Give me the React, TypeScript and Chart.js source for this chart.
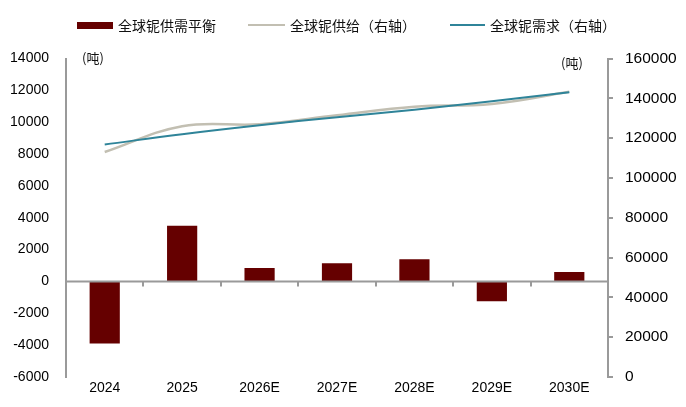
import { useEffect, useRef } from "react";
import { Chart, registerables } from "chart.js";

Chart.register(...registerables);

const categories = ["2024", "2025", "2026E", "2027E", "2028E", "2029E", "2030E"];
// 全球铌供需平衡 (left axis, 吨)
const balance = [-3900, 3500, 850, 1150, 1400, -1250, 600];
// 全球铌供给 / 需求 (right axis, 吨)
const supply = [113000, 126000, 127000, 131500, 135800, 137200, 143300];
const demand = [116800, 122000, 126500, 130500, 134300, 138500, 143000];

const BAR = "#650000";
const SUPPLY = "#c2bfb2";
const DEMAND = "#2f8499";
const AXIS = "#9a9a9a";

// zero line with small tick marks between the categories
const zeroLine = {
  id: "zeroLine",
  afterDatasetsDraw(chart: any) {
    const { ctx, chartArea, scales } = chart;
    const y0 = scales.y.getPixelForValue(0);
    ctx.save();
    ctx.strokeStyle = AXIS;
    ctx.lineWidth = 2;
    ctx.beginPath();
    ctx.moveTo(chartArea.left, y0);
    ctx.lineTo(chartArea.right, y0);
    for (let i = 1; i < categories.length; i++) {
      const x = Math.round(scales.x.getPixelForValue(i - 0.5));
      ctx.moveTo(x, y0);
      ctx.lineTo(x, y0 + 5);
    }
    ctx.stroke();
    ctx.restore();
  },
};

const legendItems = [
  { label: "全球铌供需平衡", left: 77, color: BAR, h: 7, w: 36 },
  { label: "全球铌供给（右轴）", left: 248, color: SUPPLY, h: 2, w: 37 },
  { label: "全球铌需求（右轴）", left: 450, color: DEMAND, h: 2, w: 35 },
];

const plain = (v: any) => String(v);

const App = () => {
  const chartRef = useRef<HTMLCanvasElement>(null);

  useEffect(() => {
    const ctx = chartRef.current!.getContext("2d")!;
    Chart.defaults.font.family = "'Liberation Sans', Arial, sans-serif";
    const myChart = new Chart(ctx, {
      type: "bar",
      data: {
        labels: categories,
        datasets: [
          {
            type: "line",
            label: "全球铌需求（右轴）",
            data: demand,
            yAxisID: "y1",
            borderColor: DEMAND,
            borderWidth: 2,
            pointRadius: 0,
            tension: 0.4,
          },
          {
            type: "line",
            label: "全球铌供给（右轴）",
            data: supply,
            yAxisID: "y1",
            borderColor: SUPPLY,
            borderWidth: 2.5,
            pointRadius: 0,
            tension: 0.4,
          },
          {
            type: "bar",
            label: "全球铌供需平衡",
            data: balance,
            yAxisID: "y",
            backgroundColor: BAR,
            barPercentage: 0.39,
            categoryPercentage: 1,
          },
        ],
      },
      options: {
        animation: false,
        responsive: false,
        layout: { padding: { top: 58.5, left: 0, right: 0, bottom: 0 } },
        plugins: {
          legend: { display: false },
          tooltip: { enabled: false },
        },
        scales: {
          x: {
            offset: true,
            grid: { display: false, drawTicks: false },
            border: { display: false },
            ticks: {
              color: "#000",
              font: { size: 14 },
              padding: 3,
              maxRotation: 0,
            },
            afterFit: (s: any) => {
              s.height = 30;
            },
          },
          y: {
            position: "left",
            min: -6000,
            max: 14000,
            grid: { drawOnChartArea: false, drawTicks: false },
            border: { color: AXIS, width: 2 },
            ticks: {
              stepSize: 2000,
              color: "#000",
              font: { size: 14 },
              padding: 17,
              callback: plain,
            },
            afterFit: (s: any) => {
              s.width = 66;
            },
          },
          y1: {
            position: "right",
            min: 0,
            max: 160000,
            grid: { drawOnChartArea: false, drawTicks: true, tickLength: 5, color: AXIS, lineWidth: 2 },
            border: { color: AXIS, width: 2 },
            ticks: {
              stepSize: 20000,
              color: "#000",
              font: { size: 15.5 },
              padding: 12,
              callback: plain,
            },
            afterFit: (s: any) => {
              s.width = 78;
            },
          },
        },
      },
      plugins: [zeroLine],
    });

    return () => {
      myChart.destroy();
    };
  }, []);

  const cjk = "'Noto Sans CJK SC', sans-serif";

  return (
    <div style={{ position: "fixed", left: 0, top: 0, width: 686, height: 407, background: "#fff" }}>
      <canvas ref={chartRef} width={686} height={407} style={{ position: "absolute", left: 0, top: 0 }} />
      {legendItems.map((it) => (
        <div
          key={it.label}
          style={{
            position: "absolute",
            left: it.left,
            top: 15,
            height: 20,
            display: "flex",
            alignItems: "center",
            fontFamily: cjk,
            fontSize: 14,
            color: "#111",
            whiteSpace: "nowrap",
          }}
        >
          <span style={{ display: "inline-block", width: it.w, height: it.h, background: it.color, marginRight: 5 }} />
          <span>{it.label}</span>
        </div>
      ))}
      <div style={{ position: "absolute", left: 82, top: 48, fontFamily: cjk, fontSize: 13, color: "#111" }}>(吨)</div>
      <div style={{ position: "absolute", left: 561, top: 53, fontFamily: cjk, fontSize: 13, color: "#111" }}>(吨)</div>
    </div>
  );
};

export default App;
